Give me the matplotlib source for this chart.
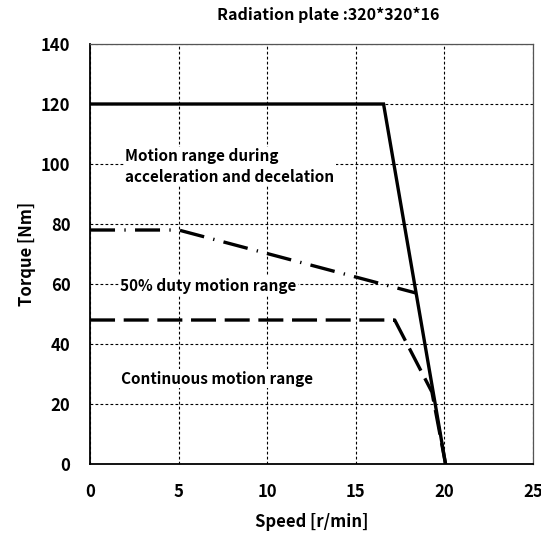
from matplotlib import pyplot as plt
import numpy as np

plt.rcParams['font.family'] = ['Noto Sans CJK JP', 'DejaVu Sans']

# speed [r/min] vs torque [Nm] corner points
accel_speed = [0, 16.57, 20.07]
accel_torque = [120, 120, 0]
duty_speed = [0, 5, 18.4]
duty_torque = [78, 78, 57]
cont_speed = [0, 17.2, 19.3, 20.07]
cont_torque = [48, 48, 24, 0]

xticks = [0, 5, 10, 15, 20, 25]
yticks = [0, 20, 40, 60, 80, 100, 120, 140]

fig = plt.figure(figsize=(5.41, 5.36), dpi=100)
ax = fig.add_axes([0.1664, 0.1343, 0.8186, 0.7836])

ax.plot(accel_speed, accel_torque, color='black', lw=2.4, solid_joinstyle='miter')
ax.plot(duty_speed, duty_torque, color='black', lw=2.4, linestyle=(0, (7.5, 2.8, 0.4, 2.8)))
ax.plot(cont_speed, cont_torque, color='black', lw=2.4, linestyle=(0, (7.5, 2.6)))

ax.set_xlim(0, 25)
ax.set_ylim(0, 140)
ax.set_xticks(xticks)
ax.set_yticks(yticks)
ax.grid(True, color='black', lw=0.8, linestyle=(0, (2.5, 2)))
ax.tick_params(length=0, pad=14, labelsize=12)
for lab in ax.get_xticklabels() + ax.get_yticklabels():
    lab.set_fontweight('bold')

for side in ['top', 'right']:
    ax.spines[side].set_color('#555555')
    ax.spines[side].set_linewidth(0.9)
for side in ['left', 'bottom']:
    ax.spines[side].set_linewidth(1.3)

box = dict(facecolor='white', edgecolor='none', pad=1)
ax.text(2.0, 99.2, 'Motion range during\nacceleration and decelation', fontsize=11,
        fontweight='bold', va='center', ha='left', bbox=box, linespacing=1.35)
ax.text(1.7, 59.4, '50% duty motion range', fontsize=11, fontweight='bold',
        va='center', ha='left', bbox=box)
ax.text(1.75, 28.4, 'Continuous motion range', fontsize=11, fontweight='bold',
        va='center', ha='left', bbox=box)

ax.set_xlabel('Speed [r/min]', fontsize=12, fontweight='bold', labelpad=8)
ax.set_ylabel('Torque [Nm]', fontsize=12, fontweight='bold', labelpad=4)
fig.text(328 / 541, 1 - 15 / 536, 'Radiation plate :320*320*16', fontsize=11.5,
         fontweight='bold', ha='center', va='center')

fig.savefig('out.png', dpi=100)
